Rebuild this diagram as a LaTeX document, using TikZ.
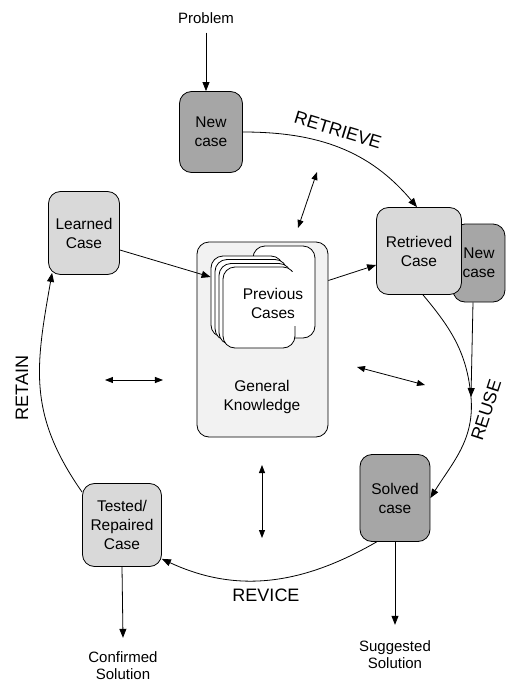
\documentclass[tikz,border=0pt]{standalone}
\usepackage{fontspec}
\setmainfont{Liberation Sans}
\usetikzlibrary{arrows.meta}

\tikzset{
  casebox/.style={draw, rounded corners=12pt, line width=0.8pt, align=center, inner sep=0pt, font=\fontsize{15.5}{19}\selectfont},
  darkcase/.style={casebox, fill=gray!70},
  lightcase/.style={casebox, fill=gray!30},
  card/.style={draw, rounded corners=12pt, fill=white, line width=0.8pt, minimum width=72pt, minimum height=81pt, inner sep=0pt},
  plaintext/.style={align=center, inner sep=3pt, font=\fontsize{15}{17}\selectfont},
  steplabel/.style={inner sep=0pt, font=\fontsize{18}{18}\selectfont},
  flow/.style={line width=0.8pt, -{Triangle[length=9pt,width=7pt]}},
  twoway/.style={line width=0.8pt, {Triangle[length=8pt,width=6pt]}-{Triangle[length=8pt,width=6pt]}}
}

\begin{document}
\begin{tikzpicture}[x=1pt,y=1pt]
    \fill[white] (0,0) rectangle (505,-683);

    \node[plaintext] (prob) at (206,-18) {Problem};
    \node[darkcase, minimum width=63pt, minimum height=81pt] (newcase) at (211,-132) {New\\case};
    \draw[flow, shorten <=6pt] (prob) -- (prob |- newcase.north);

    \node[darkcase, minimum width=52pt, minimum height=78pt] (newcase2) at (479,-263) {New\\case};
    \node[lightcase, minimum width=85pt, minimum height=87pt] (retrieved) at (419,-251) {Retrieved\\Case};
    \node[darkcase, minimum width=70pt, minimum height=87pt] (solved) at (395,-498) {Solved\\case};
    \node[lightcase, minimum width=79pt, minimum height=83pt] (tested) at (122,-525) {Tested/\\Repaired\\Case};
    \node[lightcase, minimum width=71pt, minimum height=83pt] (learned) at (84,-233) {Learned\\Case};

    \node[casebox, fill=gray!10, minimum width=131pt, minimum height=195pt] (gk) at (262.5,-339.5) {};
    \node[plaintext, font=\fontsize{15.5}{19}\selectfont] (gktxt) at (262,-397) {General\\Knowledge};
    \node[card, minimum width=62pt, minimum height=92pt] (c0) at (284,-292) {};
    \node[card] (c1) at (247,-296.5) {};
    \node[card] (c2) at (251,-300) {};
    \node[card] (c3) at (255,-304) {};
    \node[card] (c4) at (259,-307.5) {};
    \fill[white] (263,-272) rectangle (306,-326);
    \node[plaintext, font=\fontsize{15.5}{19}\selectfont] (prevtxt) at (273,-303) {Previous\\Cases};

    \node[plaintext] (sugg) at (395,-655) {Suggested\\Solution};
    \node[plaintext] (conf) at (123,-666) {Confirmed\\Solution};

    \draw[flow] (newcase.east) to[out=0,in=130] ([xshift=-2pt]retrieved.north);
    \node[steplabel, rotate=-17] (lretrieve) at (338,-130) {RETRIEVE};

    \coordinate (reusept) at (471,-397);
    \draw[flow] ([xshift=-6pt]newcase2.south) -- (reusept);
    \draw[flow] ([xshift=4pt]retrieved.south) to[out=-50,in=95] (reusept) to[out=-85,in=58] (solved.east);
    \node[steplabel, rotate=72] (lreuse) at (486,-410) {REUSE};

    \draw[flow] ([xshift=17pt]solved.south west) to[out=-150,in=-25] ([yshift=8pt]tested.south east);
    \node[steplabel] (lrevice) at (266,-595) {REVICE};

    \draw[flow] ([yshift=-9pt]tested.north west) to[out=125,in=-100,looseness=1.1] ([xshift=4pt,yshift=2pt]learned.south west);
    \node[steplabel, rotate=90] (lretain) at (22,-388) {RETAIN};

    \draw[flow] (solved.south) -- ([yshift=13pt]sugg.north);
    \draw[flow] (tested.south) -- ([yshift=11pt]conf.north);

    \draw[flow] ([yshift=-17pt]learned.east) -- ([yshift=19.5pt]c1.west);
    \draw[flow] ([yshift=59pt]gk.east) -- ([yshift=-14pt]retrieved.west);

    \coordinate (up1) at (317,-172);
    \coordinate (up2) at (298,-228);
    \coordinate (left1) at (105,-380);
    \coordinate (left2) at (163,-380);
    \coordinate (right1) at (357,-367);
    \coordinate (right2) at (425,-385);
    \coordinate (down1) at (262,-465);
    \coordinate (down2) at (262,-538);
    \draw[twoway] (up1) -- (up2);
    \draw[twoway] (left1) -- (left2);
    \draw[twoway] (right1) -- (right2);
    \draw[twoway] (down1) -- (down2);
\end{tikzpicture}
\end{document}
